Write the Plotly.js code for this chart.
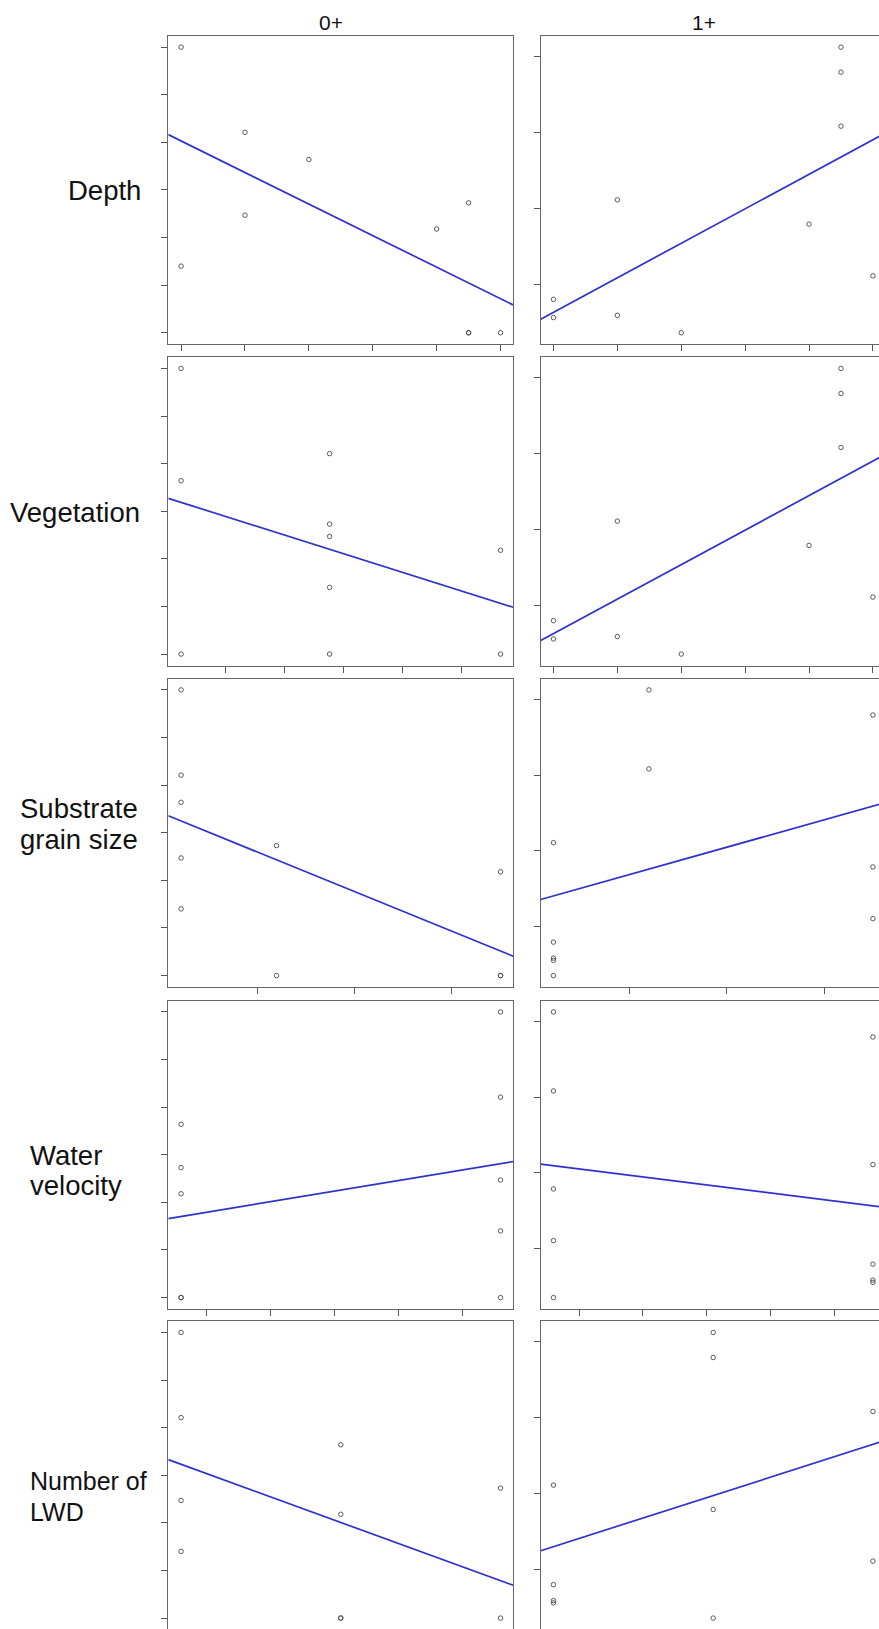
<!DOCTYPE html>
<html><head><meta charset="utf-8">
<script src="https://cdn.plot.ly/plotly-3.0.1.min.js"></script>
<style>html,body{margin:0;padding:0;overflow:hidden;background:#fff}#chart{width:900px;height:1640px}</style>
</head><body><div id="chart"></div>
<script>
// ---- data ----
const columnTitles = ["0+", "1+"];
const rowLabels = [["Depth"], ["Vegetation"], ["Substrate", "grain size"], ["Water", "velocity"], ["Number of", "LWD"]];

// 0+ column
const depthX0 = [0, 0, 1, 1, 2, 4, 4.5, 4.5, 4.5, 5];
const depthY0 = [6, 1.40, 4.21, 2.47, 3.64, 2.18, 2.73, 0, 0, 0];
const vegX0 = [0.24, 0.24, 0.24, 2.76, 2.76, 2.76, 2.76, 2.76, 5.66, 5.66];
const vegY0 = [6, 3.64, 0, 4.21, 2.73, 2.47, 1.40, 0, 2.18, 0];
const subX0 = [0.22, 0.22, 0.22, 0.22, 0.22, 1.20, 1.20, 3.50, 3.50, 3.50];
const subY0 = [6, 4.21, 3.64, 2.47, 1.40, 2.73, 0, 2.18, 0, 0];
const velX0 = [0.6, 0.6, 0.6, 0.6, 0.6, 5.6, 5.6, 5.6, 5.6, 5.6];
const velY0 = [3.64, 2.73, 2.18, 0, 0, 6, 4.21, 2.47, 1.40, 0];
const lwdX0 = [0, 0, 0, 0, 1, 1, 1, 1, 2, 2];
const lwdY0 = [6, 4.21, 2.47, 1.40, 3.64, 2.18, 0, 0, 2.73, 0];

// 1+ column
const depthX1 = [0, 0, 1, 1, 2, 4, 4.5, 4.5, 4.5, 5];
const depthY1 = [0.80, 0.56, 2.11, 0.59, 0.36, 1.79, 4.12, 3.79, 3.08, 1.11];
const vegX1 = [0, 0, 1, 1, 2, 4, 4.5, 4.5, 4.5, 5];
const vegY1 = [0.80, 0.56, 2.11, 0.59, 0.36, 1.79, 4.12, 3.79, 3.08, 1.11];
const subX1 = [1.20, 1.20, 3.50, 0.22, 3.50, 3.50, 0.22, 0.22, 0.22, 0.22];
const subY1 = [4.12, 3.08, 3.79, 2.11, 1.79, 1.11, 0.80, 0.59, 0.56, 0.36];
const velX1 = [0.6, 0.6, 0.6, 0.6, 0.6, 5.6, 5.6, 5.6, 5.6, 5.6];
const velY1 = [4.12, 3.08, 1.79, 1.11, 0.36, 3.79, 2.11, 0.80, 0.59, 0.56];
const lwdX1 = [1, 1, 1, 1, 2, 2, 0, 0, 0, 0];
const lwdY1 = [4.12, 3.79, 1.79, 0.36, 3.08, 1.11, 2.11, 0.80, 0.59, 0.56];

// fitted lines (intercept at x = 0, slope), per row
const fitIntercept0 = [4.03, 3.28, 3.43, 1.57, 3.23];
const fitSlope0 = [-0.663, -0.391, -0.833, 0.222, -1.222];
const fitIntercept1 = [0.63, 0.63, 1.33, 2.16, 1.30];
const fitSlope1 = [0.454, 0.454, 0.360, -0.106, 0.673];

// ---- build ----
const W = 900, H = 1640;
const colLeft = [168.3, 540.7], colWidth = 345;
const rowTop = [35.7, 357.0, 678.5, 1000.5, 1321.0], rowHeight = 308.5;

const panels = [
  [[depthX0, depthY0], [depthX1, depthY1]],
  [[vegX0, vegY0], [vegX1, vegY1]],
  [[subX0, subY0], [subX1, subY1]],
  [[velX0, velY0], [velX1, velY1]],
  [[lwdX0, lwdY0], [lwdX1, lwdY1]]
];
const fits = [[fitIntercept0, fitSlope0], [fitIntercept1, fitSlope1]];

function padRange(a) {
  const mn = Math.min(...a), mx = Math.max(...a), d = mx - mn;
  return [mn - 0.04 * d, mx + 0.04 * d];
}

const traces = [];
const layout = {
  width: W, height: H, autosize: false,
  margin: {l: 0, r: 0, t: 0, b: 0, pad: 0},
  paper_bgcolor: '#ffffff', plot_bgcolor: '#ffffff',
  showlegend: false, annotations: []
};

const axisStyle = {
  showline: true, mirror: true, linecolor: '#666666', linewidth: 1,
  ticks: 'outside', ticklen: 6, tickwidth: 1, tickcolor: '#555555',
  showticklabels: false, showgrid: false, zeroline: false,
  tick0: 0, dtick: 1, fixedrange: true
};

for (let r = 0; r < 5; r++) {
  for (let c = 0; c < 2; c++) {
    const n = r * 2 + c + 1;
    const xs = panels[r][c][0], ys = panels[r][c][1];
    const xr = padRange(xs), yr = padRange(ys);
    const xa = 'x' + (n > 1 ? n : ''), ya = 'y' + (n > 1 ? n : '');
    traces.push({
      type: 'scatter', mode: 'markers', x: xs, y: ys, xaxis: xa, yaxis: ya,
      marker: {symbol: 'circle-open', size: 4.5, color: '#4a4a4a', line: {width: 0.9, color: '#4a4a4a'}},
      hoverinfo: 'skip'
    });
    const a = fits[c][0][r], b = fits[c][1][r];
    traces.push({
      type: 'scatter', mode: 'lines', x: xr, y: xr.map(v => a + b * v), xaxis: xa, yaxis: ya,
      line: {color: '#3030cc', width: 1.7}, hoverinfo: 'skip'
    });
    layout['xaxis' + (n > 1 ? n : '')] = Object.assign({}, axisStyle, {
      range: xr, anchor: ya,
      domain: [colLeft[c] / W, (colLeft[c] + colWidth) / W]
    });
    layout['yaxis' + (n > 1 ? n : '')] = Object.assign({}, axisStyle, {
      range: yr, anchor: xa,
      domain: [1 - (rowTop[r] + rowHeight) / H, 1 - rowTop[r] / H]
    });
  }
}

const font = {family: 'Arial, "Liberation Sans", sans-serif', color: '#111111'};
const titleX = [331, 704];
columnTitles.forEach((t, i) => layout.annotations.push({
  text: t, xref: 'paper', yref: 'paper', x: titleX[i] / W, y: 1 - 22 / H,
  xanchor: 'center', yanchor: 'middle', showarrow: false,
  font: Object.assign({size: 21}, font)
}));

// row label line placement: [x (px), centre y (px), anchor, font size]
const labelPos = [
  [[66, 190, 'left', 27.5]],
  [[8, 512, 'left', 27.5]],
  [[79.4, 808, 'center', 27.5], [78.5, 839.5, 'center', 27.5]],
  [[28, 1155, 'left', 27.5], [28, 1185.5, 'left', 27.5]],
  [[28, 1480.5, 'left', 25], [28, 1511.7, 'left', 25]]
];
rowLabels.forEach((lines, r) => lines.forEach((t, k) => {
  const p = labelPos[r][k];
  layout.annotations.push({
    text: t, xref: 'paper', yref: 'paper', x: p[0] / W, y: 1 - p[1] / H,
    xanchor: p[2], yanchor: 'middle', showarrow: false,
    font: Object.assign({size: p[3]}, font)
  });
}));

Plotly.newPlot('chart', traces, layout, {staticPlot: true, displayModeBar: false});
</script></body></html>
